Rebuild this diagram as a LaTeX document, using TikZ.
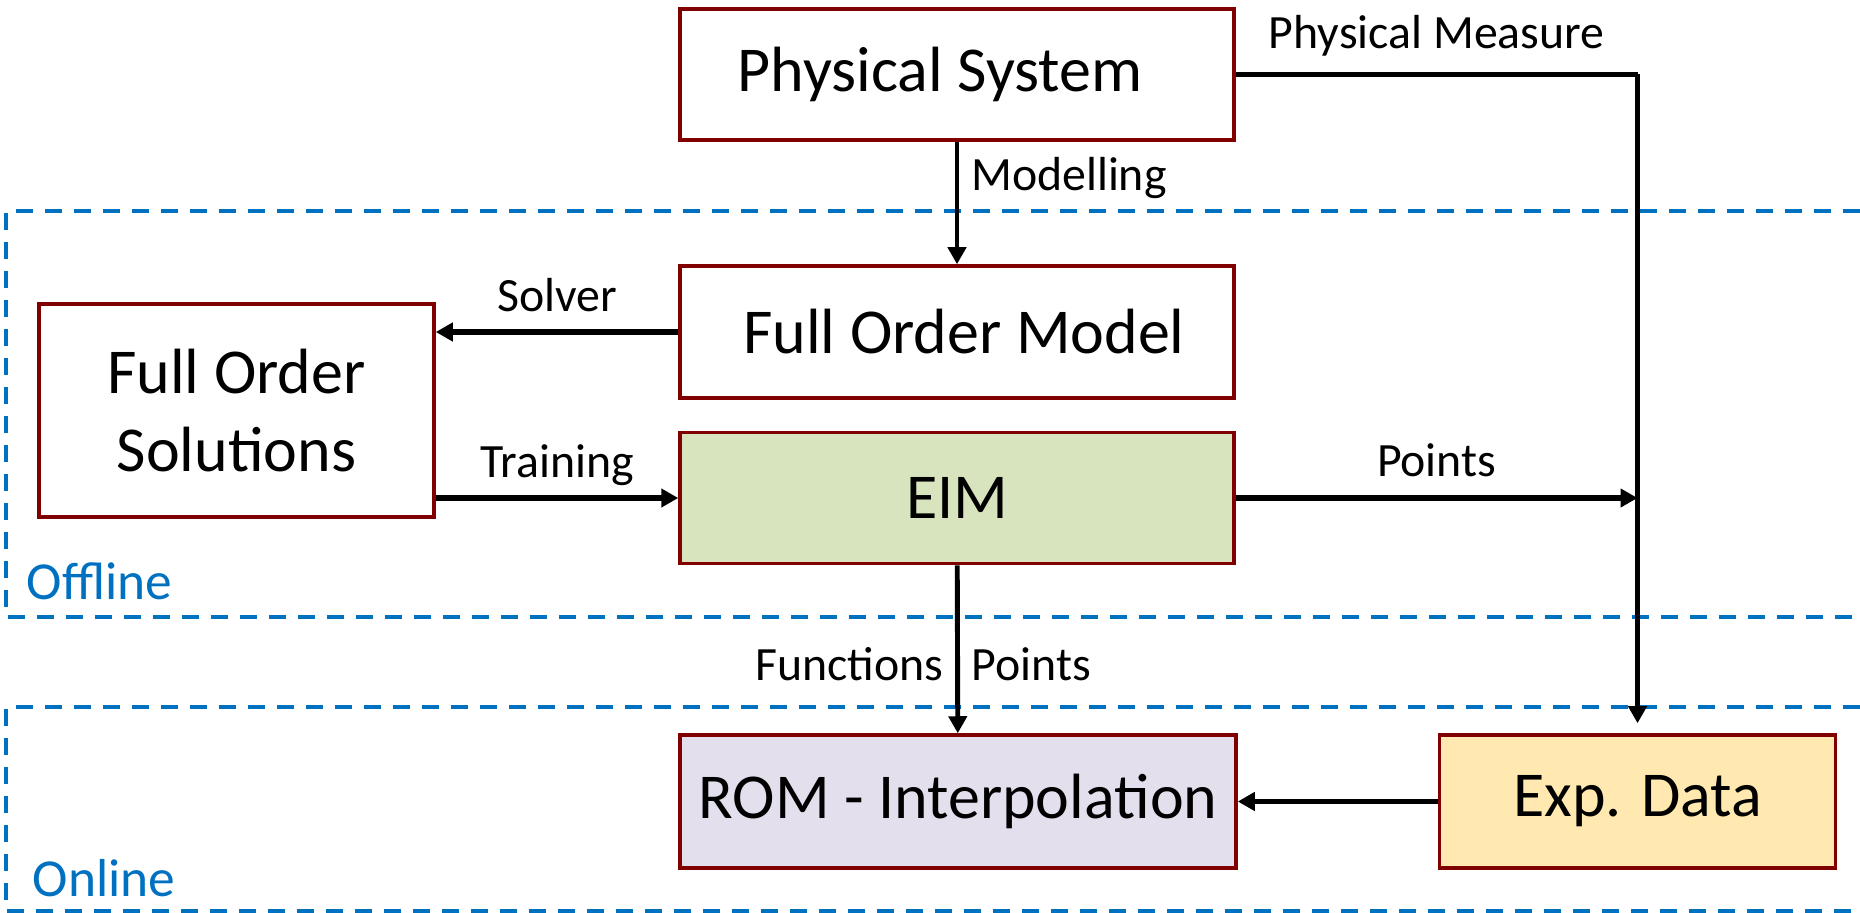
\documentclass[tikz,border=0pt]{standalone}
\usepackage{fontspec}
\setmainfont{Carlito}
\usepackage{tikz}
\usetikzlibrary{arrows.meta,positioning,calc}
\definecolor{vinho}{HTML}{800000}
\definecolor{azul}{HTML}{0070C0}
\definecolor{verde}{HTML}{D7E4BD}
\definecolor{lilas}{HTML}{E4DFEC}
\definecolor{amarelo}{HTML}{FFE9B1}

\begin{document}
\begin{tikzpicture}[font=\fontsize{13.6}{16}\selectfont,
  bx/.style={draw=vinho, line width=1pt, fill=white, minimum height=13.1mm, align=center, inner sep=2pt,
    font=\fontsize{18.2}{22}\selectfont},
  gx/.style={bx, fill=verde},
  rx/.style={bx, fill=lilas},
  yx/.style={bx, fill=amarelo},
  seta/.style={-{Triangle[length=1.7mm,width=1.8mm]}, line width=1.4pt},
  grossa/.style={seta, line width=1.5pt},
  zona/.style={draw=azul, line width=1.14pt, dash pattern=on 1.7mm off 1.2mm},
  fase/.style={anchor=west, inner sep=0pt, text=azul, font=\fontsize{15.2}{18}\selectfont}]
  \useasboundingbox (0,0) rectangle (18.6,-9.13);
  % regioes offline / online
  \draw[zona] (18.6,-2.11) -| (0.06,-6.17) -- (18.6,-6.17);
  \draw[zona] (18.6,-7.07) -| (0.06,-9.11) -- (18.6,-9.11);
  \node[fase] (off) at (0.26,-5.81) {Offline};
  \node[fase] (on) at (0.32,-8.78) {Online};
  % blocos
  \node[bx, minimum width=55.4mm] (fis) at (9.57,-0.745) {Physical System\hspace*{3.4mm}};
  \node[bx, minimum width=55.4mm, minimum height=13.2mm] (fom) at (9.57,-3.32) {\hspace*{1.4mm}Full Order Model};
  \node[gx, minimum width=55.4mm, below=3.1mm of fom] (eim) {EIM};
  \node[bx, minimum width=39.5mm, minimum height=21.3mm] (fos) at (2.365,-4.105) {Full Order\\Solutions};
  \node[rx, minimum width=55.6mm, minimum height=13.3mm] (rom) at (9.58,-8.015) {ROM - Interpolation};
  \node[yx, minimum width=39.6mm, minimum height=13.3mm, right=20mm of rom] (exp) {Exp. Data};
  % ligacoes
  \coordinate (canto) at (fis.east -| exp.north);
  \draw[seta] (fis) -- (fom) node[pos=0.3, right] {Modelling};
  \draw[grossa] (fom.west) -- (fom.west -| fos.east) node[midway, above=1.7pt] {Solver};
  \draw[grossa] (fos.east |- eim.west) -- (eim.west) node[midway, above=-0.5pt] {Training};
  \draw[line width=1.6pt] (fis.east) -- (canto) node[midway, above=1pt] {Physical Measure};
  \draw[seta] (canto) -- ([yshift=1mm]exp.north);
  \draw[grossa] (eim.east) -- (eim.east -| exp.north) node[midway, above=2pt] {Points};
  \draw[seta] (eim) -- (rom) node[pos=0.59, left] {Functions} node[pos=0.59, right] {Points};
  \draw[grossa] (exp) -- (rom);
\end{tikzpicture}
\end{document}
